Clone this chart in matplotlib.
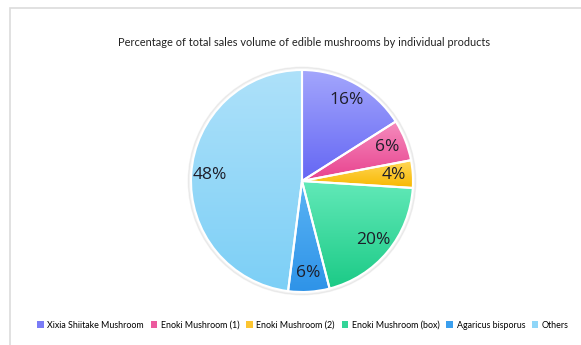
import numpy as np
import matplotlib
matplotlib.use("Agg")
import matplotlib.pyplot as plt
from matplotlib.colors import LinearSegmentedColormap
from matplotlib.patches import Patch, Circle, Rectangle

products = ["Xixia Shiitake Mushroom", "Enoki Mushroom (1)", "Enoki Mushroom (2)",
            "Enoki Mushroom (box)", "Agaricus bisporus", "Others"]
shares = [16, 6, 4, 20, 6, 48]
top_colors = ["#a3a6fc", "#f58cbd", "#ffd75a", "#62e9b8", "#5bb4f4", "#aee1fa"]
bottom_colors = ["#6466f4", "#e8418e", "#f8b800", "#1bca86", "#2e93e8", "#7ccff6"]
legend_colors = ["#7a7cf7", "#ec5a9e", "#fcc531", "#33d598", "#3a9fee", "#8fd6f8"]

plt.rcParams["font.family"] = ["Lato", "DejaVu Sans"]

fig = plt.figure(figsize=(5.81, 3.45), dpi=100)
fig.patch.set_facecolor("white")

# light frame like the source screenshot
frame = Rectangle((10 / 581, -0.1), 1.2, 1 - 8 / 345 + 0.1, transform=fig.transFigure,
                  fill=False, edgecolor="#dcdcdc", linewidth=1.2)
fig.patches.append(frame)

fig.text(304 / 581, 1 - 42 / 345, "Percentage of total sales volume of edible mushrooms by individual products",
         ha="center", va="center", fontsize=7.9, color="#222222")

cx, cy, r = 302 / 581, 1 - 181 / 345, 111
ax = fig.add_axes([cx - 1.05 * r / 581, cy - 1.05 * r / 345, 2.1 * r / 581, 2.1 * r / 345])
ax.set_aspect("equal")
ax.set_axis_off()

ax.add_patch(Circle((0, 0), 1.025, color="#000000", alpha=0.05, zorder=0))

wedges, texts, autotexts = ax.pie(shares, startangle=90, counterclock=False, radius=1,
                                  autopct="%d%%", pctdistance=0.83,
                                  wedgeprops=dict(edgecolor="white", linewidth=1.5),
                                  textprops=dict(fontsize=12.5, color="#1e1e2a"))

grad = np.linspace(0, 1, 256).reshape(-1, 1)
for w, ct, cb in zip(wedges, top_colors, bottom_colors):
    w.set_facecolor("none")
    ext = w.get_path().get_extents()
    cmap = LinearSegmentedColormap.from_list("g", [ct, cb])
    im = ax.imshow(grad, cmap=cmap, aspect="auto", origin="upper",
                   extent=[ext.x0, ext.x1, ext.y0, ext.y1], zorder=1)
    im.set_clip_path(w)
    w.set_zorder(2)
for t in autotexts:
    t.set_zorder(3)
    t.set_family(["Open Sans", "DejaVu Sans"])
ax.set_xlim(-1.05, 1.05)
ax.set_ylim(-1.05, 1.05)

handles = [Patch(facecolor=c, edgecolor="none") for c in legend_colors]
fig.legend(handles, products, loc="center", bbox_to_anchor=(303 / 581, 1 - 325 / 345), ncol=6,
           frameon=False, fontsize=6.4, handlelength=0.75, handleheight=0.75,
           handletextpad=0.4, columnspacing=0.75)

fig.savefig("out.png", dpi=100)
